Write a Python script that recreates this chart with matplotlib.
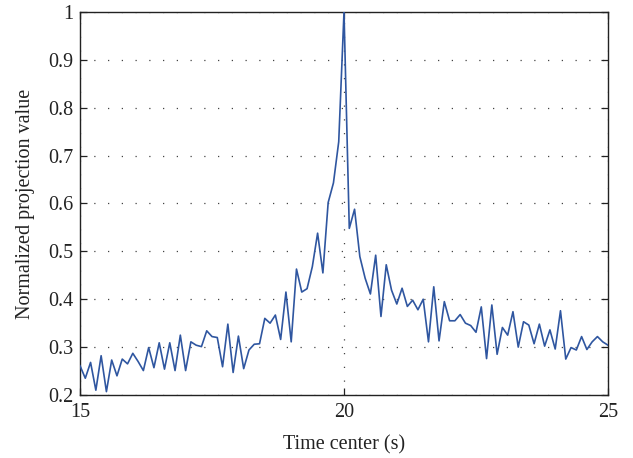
import numpy as np
import matplotlib
matplotlib.use("Agg")
from matplotlib import pyplot as plt
from matplotlib.ticker import FuncFormatter

# time centers, 0.1 s step
time_center = np.round(np.arange(150, 251) / 10.0, 1)

# normalized projection values
projection = [
    0.261, 0.235, 0.268, 0.210, 0.282, 0.207, 0.273, 0.240, 0.275, 0.265,
    0.287, 0.270, 0.251, 0.299, 0.257, 0.309, 0.254, 0.309, 0.251, 0.325,
    0.251, 0.311, 0.304, 0.301, 0.334, 0.322, 0.320, 0.259, 0.348, 0.247,
    0.323, 0.255, 0.294, 0.306, 0.307, 0.360, 0.350, 0.367, 0.316, 0.415,
    0.311, 0.463, 0.415, 0.422, 0.468, 0.538, 0.455, 0.602, 0.643, 0.729,
    1.000, 0.548, 0.588, 0.489, 0.444, 0.411, 0.492, 0.364, 0.472, 0.419,
    0.390, 0.423, 0.385, 0.398, 0.378, 0.400, 0.311, 0.426, 0.313, 0.395,
    0.355, 0.355, 0.368, 0.350, 0.345, 0.331, 0.384, 0.276, 0.388, 0.285,
    0.341, 0.325, 0.374, 0.300, 0.353, 0.346, 0.307, 0.348, 0.302, 0.336,
    0.296, 0.376, 0.275, 0.299, 0.294, 0.322, 0.295, 0.311, 0.322, 0.311,
    0.304,
]

x_ticks = [15, 20, 25]
y_ticks = [0.2, 0.3, 0.4, 0.5, 0.6, 0.7, 0.8, 0.9, 1.0]

plt.rcParams['font.family'] = ['Liberation Serif', 'DejaVu Serif']
plt.rcParams['font.size'] = 14.5

fig = plt.figure(figsize=(6.33, 4.58), dpi=100)
ax = fig.add_axes([0.1264, 0.1376, 0.8341, 0.8362])

ax.plot(time_center, projection, color='#2f56a0', linewidth=1.2, zorder=3)

ax.set_xlim(15, 25)
ax.set_ylim(0.2, 1.0)
ax.set_xticks(x_ticks)
ax.set_yticks(y_ticks)
ax.yaxis.set_major_formatter(FuncFormatter(lambda v, pos: ('%g' % v)))

ax.grid(True, linestyle=(0, (1, 10)), color='#444444', linewidth=0.9, zorder=1)
ax.tick_params(direction='in', length=5, width=0.9, top=True, right=True,
               colors='#222222', labelcolor='#222222', pad=5)
ax.tick_params(axis='x', pad=6)
for sp in ax.spines.values():
    sp.set_linewidth(1.0)
    sp.set_color('#222222')

ax.set_xlabel('Time center (s)', color='#222222', labelpad=9)
ax.set_ylabel('Normalized projection value', color='#222222', labelpad=9)

fig.savefig('out.png', dpi=100)
